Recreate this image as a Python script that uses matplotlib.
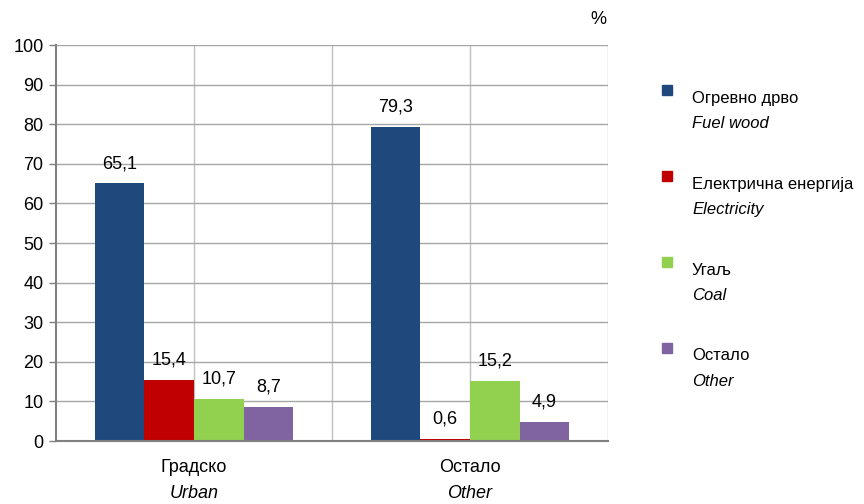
import matplotlib
matplotlib.use("Agg")
import matplotlib.pyplot as plt
from matplotlib.patches import Rectangle
from matplotlib.transforms import blended_transform_factory
from matplotlib import font_manager

families = [f.name for f in font_manager.fontManager.ttflist]
FONT = "Liberation Sans Narrow" if "Liberation Sans Narrow" in families else "Liberation Sans"
plt.rcParams['font.family'] = [FONT, 'DejaVu Sans']

categories_sr = ["Градско", "Остало"]
categories_en = ["Urban", "Other"]
series_sr = ["Огревно дрво", "Електрична енергија", "Угаљ", "Остало"]
series_en = ["Fuel wood", "Electricity", "Coal", "Other"]
fuel_wood = [65.1, 79.3]
electricity = [15.4, 0.6]
coal = [10.7, 15.2]
other = [8.7, 4.9]
values = [fuel_wood, electricity, coal, other]
colors = ["#1F497D", "#C00000", "#92D050", "#8064A2"]
yticks = [0, 10, 20, 30, 40, 50, 60, 70, 80, 90, 100]

fig = plt.figure(figsize=(8.64, 5.04), dpi=100)
ax = fig.add_axes([56/864, 1-441/504, (608-56)/864, (441-45)/504])

width = 0.18
x = list(range(len(categories_sr)))
for i, (vals, col) in enumerate(zip(values, colors)):
    pos = [xi + (i - 1.5) * width for xi in x]
    ax.bar(pos, vals, width=width, color=col, zorder=3, linewidth=0)
    for p, v in zip(pos, vals):
        ax.annotate(f"{v:.1f}".replace(".", ","), (p, v), xytext=(0, 8),
                    textcoords="offset points", ha="center", va="bottom", fontsize=13)

ax.set_xlim(-0.5, 1.5)
ax.set_ylim(0, 100)
ax.set_yticks(yticks)
ax.set_yticklabels([str(t) for t in yticks], fontsize=13)
ax.tick_params(axis='y', length=5, width=1, color="#808080", pad=4)
ax.set_xticks([])
for xv in [0, 0.5, 1.0, 1.5]:
    ax.axvline(xv, color="#C0C0C0", linewidth=1, zorder=1)
for yv in yticks[1:]:
    ax.axhline(yv, color="#A6A6A6", linewidth=1, zorder=1)
for s in ["top", "right"]:
    ax.spines[s].set_visible(False)
for s in ["left", "bottom"]:
    ax.spines[s].set_color("#808080")
    ax.spines[s].set_linewidth(1.5)
    ax.spines[s].set_zorder(4)

trans = blended_transform_factory(ax.transData, fig.transFigure)
for xi, sr, en in zip(x, categories_sr, categories_en):
    ax.text(xi, 1-468/504, sr, transform=trans, ha="center", va="center", fontsize=13)
    ax.text(xi, 1-493/504, en, transform=trans, ha="center", va="center", fontsize=13, style="italic")

fig.text(598/864, 1-20/504, "%", ha="center", va="center", fontsize=13)

leg_y = [98, 184, 270, 356]
for yy, col, sr, en in zip(leg_y, colors, series_sr, series_en):
    fig.patches.append(Rectangle((662/864, 1-(yy-3)/504), 10/864, 10/504, color=col,
                                 transform=fig.transFigure, figure=fig))
    fig.text(692/864, 1-yy/504, sr, ha="left", va="center", fontsize=12)
    fig.text(692/864, 1-(yy+25)/504, en, ha="left", va="center", fontsize=12, style="italic")

fig.savefig("out.png", dpi=100)
